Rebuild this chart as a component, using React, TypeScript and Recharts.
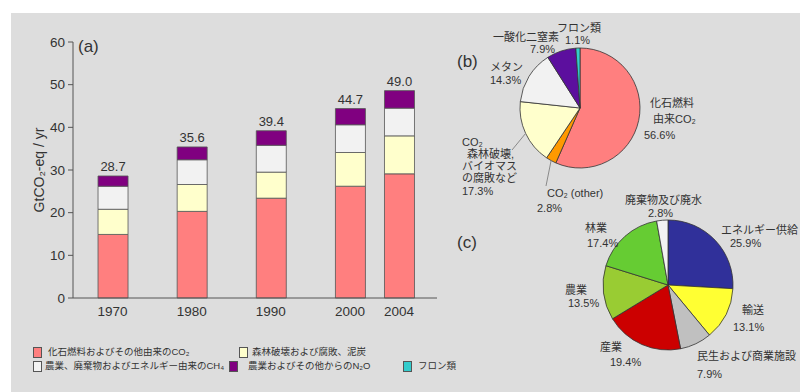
import React from "react"
import { BarChart, Bar, XAxis, YAxis, LabelList, PieChart, Pie, Cell } from "recharts"

// (a) emissions by gas, GtCO2-eq / yr
const years = [1970, 1980, 1990, 2000, 2004]
const fossilCo2 = [14.9, 20.3, 23.4, 26.2, 29.1]
const forestCo2 = [5.9, 6.3, 6.1, 7.9, 8.9]
const methane = [5.4, 5.8, 6.3, 6.5, 6.5]
const nitrous = [2.4, 3.0, 3.4, 3.8, 4.1]
const totals = [28.7, 35.6, 39.4, 44.7, 49.0]
const yTicks = [0, 10, 20, 30, 40, 50, 60]

// (b) share by gas, 2004
const gasNames = ["化石燃料\n由来CO₂", "CO₂ (other)", "CO₂\n森林破壊,\nバイオマス\nの腐敗など", "メタン", "一酸化二窒素", "フロン類"]
const gasShares = [56.6, 2.8, 17.3, 14.3, 7.9, 1.1]

// (c) share by sector, 2004
const sectorNames = ["エネルギー供給", "輸送", "民生および商業施設", "産業", "農業", "林業", "廃棄物及び廃水"]
const sectorShares = [25.9, 13.1, 7.9, 19.4, 13.5, 17.4, 2.8]

const legendNames = [
  "化石燃料およびその他由来のCO₂",
  "森林破壊および腐敗、泥炭",
  "農業、廃棄物およびエネルギー由来のCH₄",
  "農業およびその他からのN₂O",
  "フロン類",
]

const barData = years.map((year, i) => ({
  year,
  fossil: fossilCo2[i],
  forest: forestCo2[i],
  ch4: methane[i],
  n2o: nitrous[i],
  total: totals[i],
}))
const gasData = gasNames.map((name, i) => ({ name, value: gasShares[i] }))
const sectorData = sectorNames.map((name, i) => ({ name, value: sectorShares[i] }))

const FONT = "'Liberation Sans', Arial, 'Noto Sans CJK JP', sans-serif"
const INK = "#333"
const EDGE = "#555"
const BG = "#dddddd"

const barColors = ["#ff7f7f", "#ffffcc", "#f2f2f2", "#800080"]
const gasColors = ["#ff7f7f", "#ff9900", "#ffffcc", "#f2f2f2", "#5c0f9e", "#33cccc"]
const sectorColors = ["#30309a", "#ffff33", "#c0c0c0", "#cc0000", "#99cc33", "#66cc33", "#f2f2f2"]
const legendColors = ["#ff7f7f", "#ffffcc", "#f2f2f2", "#800080", "#33cccc"]

// the printed time axis isn't linear: 2000→2004 gets more room than 4 years
const axisYears = [1965, 1970, 2000, 2004, 2009]
const axisSlots = [0, 0.5, 3.5, 4.12, 4.6]

function makeYearScale(): any {
  let dom = [axisYears[0], axisYears[axisYears.length - 1]]
  let rng = [0, 1]
  const toSlot = (y: number) => {
    for (let i = 1; i < axisYears.length; i++) {
      if (y <= axisYears[i] || i === axisYears.length - 1) {
        const t = (y - axisYears[i - 1]) / (axisYears[i] - axisYears[i - 1])
        return axisSlots[i - 1] + t * (axisSlots[i] - axisSlots[i - 1])
      }
    }
    return axisSlots[0]
  }
  const scale: any = (y: number) => {
    const s0 = toSlot(dom[0])
    const s1 = toSlot(dom[dom.length - 1])
    return rng[0] + ((toSlot(y) - s0) / (s1 - s0)) * (rng[rng.length - 1] - rng[0])
  }
  scale.domain = (d?: number[]) => {
    if (d === undefined) return dom.slice()
    dom = d.slice()
    return scale
  }
  scale.range = (r?: number[]) => {
    if (r === undefined) return rng.slice()
    rng = r.slice()
    return scale
  }
  scale.copy = () => makeYearScale().domain(dom).range(rng)
  scale.ticks = () => years.slice()
  return scale
}

const yearScale = makeYearScale()

// label text spots, one [x, y] per text line (pie chart coords)
const gasLabelSpots = [
  [[210, 103], [213, 119], [204, 135]],
  [[107, 193], [97, 208]],
  [[22, 142], [27, 154], [22, 166], [22, 178], [22, 191]],
  [[50, 67], [50, 80]],
  [[53, 37], [90, 49]],
  [[117, 28], [125, 40]],
]
const gasLeaders = [null, [106, 186], [72, 150], null, null, null]

const sectorLabelSpots = [
  [[281, 230], [290, 243]],
  [[302, 310], [293, 327]],
  [[257, 356], [257, 374]],
  [[160, 347], [170, 362]],
  [[125, 290], [128, 303]],
  [[145, 228], [147, 243]],
  [[185, 200], [208, 213]],
]

const legendSpots = [
  { sx: 33, tx: 48, y: 352 },
  { sx: 239, tx: 252, y: 352 },
  { sx: 33, tx: 45, y: 366 },
  { sx: 229, tx: 248, y: 366 },
  { sx: 403, tx: 418, y: 366 },
]

const RAD = Math.PI / 180

function pieLabel(spots: number[][][], leaders: (number[] | null)[]) {
  return (p: any) => {
    const lines = [...String(p.name).split("\n"), `${Number(p.value).toFixed(1)}%`]
    const spot = spots[p.index]
    const end = leaders[p.index]
    const sx = p.cx + p.outerRadius * Math.cos(-p.midAngle * RAD)
    const sy = p.cy + p.outerRadius * Math.sin(-p.midAngle * RAD)
    return (
      <g key={`lbl-${p.index}`}>
        {end && <line x1={sx} y1={sy} x2={end[0]} y2={end[1]} stroke="#8a8a8a" strokeWidth={1} />}
        {lines.map((t, i) => (
          <text
            key={i}
            x={spot[i][0]}
            y={spot[i][1]}
            fontSize={11}
            fill={INK}
            fontFamily={FONT}
            dominantBaseline="central"
          >
            {t}
          </text>
        ))}
      </g>
    )
  }
}

const tag = (left: number, top: number): React.CSSProperties => ({
  position: "absolute",
  left,
  top,
  fontSize: 17,
  color: INK,
  lineHeight: "20px",
})

export default function App() {
  return (
    <div style={{ position: "relative", width: 800, height: 392, background: "#fff", overflow: "hidden", fontFamily: FONT }}>
      <style>{`body{margin:0}`}</style>
      <div style={{ position: "absolute", left: 11, top: 13, right: 0, bottom: 0, background: BG }} />

      {/* (a) stacked bars */}
      <div style={{ position: "absolute", left: 0, top: 0 }}>
        <BarChart width={460} height={330} data={barData} margin={{ top: 42, right: 23, bottom: 0, left: 43 }}>
          <XAxis
            type="number"
            dataKey="year"
            domain={[1965, 2009]}
            ticks={years}
            scale={yearScale}
            allowDataOverflow
            interval={0}
            height={32}
            tickLine={false}
            axisLine={{ stroke: EDGE }}
            tick={{ fontSize: 13.5, fill: INK, fontFamily: FONT }}
          />
          <YAxis
            type="number"
            domain={[0, 60]}
            ticks={yTicks}
            width={30}
            tickSize={5}
            tickMargin={3}
            axisLine={{ stroke: EDGE }}
            tickLine={{ stroke: EDGE }}
            tick={{ fontSize: 13.5, fill: INK, fontFamily: FONT }}
          />
          <Bar dataKey="fossil" stackId="a" barSize={30} fill={barColors[0]} stroke={EDGE} strokeWidth={0.8} isAnimationActive={false} />
          <Bar dataKey="forest" stackId="a" barSize={30} fill={barColors[1]} stroke={EDGE} strokeWidth={0.8} isAnimationActive={false} />
          <Bar dataKey="ch4" stackId="a" barSize={30} fill={barColors[2]} stroke={EDGE} strokeWidth={0.8} isAnimationActive={false} />
          <Bar dataKey="n2o" stackId="a" barSize={30} fill={barColors[3]} stroke={EDGE} strokeWidth={0.8} isAnimationActive={false}>
            <LabelList dataKey="total" position="top" offset={5} fontSize={13} fill={INK} fontFamily={FONT} formatter={(v: any) => Number(v).toFixed(1)} />
          </Bar>
        </BarChart>
      </div>

      <div
        style={{
          position: "absolute",
          left: 39,
          top: 170,
          transform: "translate(-50%, -50%) rotate(-90deg)",
          whiteSpace: "nowrap",
          fontSize: 14,
          color: INK,
        }}
      >
        GtCO₂-eq / yr
      </div>
      <div style={tag(78, 37)}>(a)</div>
      <div style={tag(457, 52)}>(b)</div>
      <div style={tag(457, 233)}>(c)</div>

      {/* (b) and (c) pies */}
      <div style={{ position: "absolute", left: 440, top: 0 }}>
        <PieChart width={360} height={392} margin={{ top: 0, right: 0, bottom: 0, left: 0 }}>
          <Pie
            data={gasData}
            dataKey="value"
            nameKey="name"
            cx={140}
            cy={108}
            outerRadius={60}
            startAngle={90}
            endAngle={-270}
            stroke={INK}
            strokeWidth={0.8}
            labelLine={false}
            label={pieLabel(gasLabelSpots, gasLeaders)}
            isAnimationActive={false}
          >
            {gasData.map((d, i) => (
              <Cell key={d.name} fill={gasColors[i]} />
            ))}
          </Pie>
          <Pie
            data={sectorData}
            dataKey="value"
            nameKey="name"
            cx={228}
            cy={285}
            outerRadius={65}
            startAngle={90}
            endAngle={-270}
            stroke={INK}
            strokeWidth={0.8}
            labelLine={false}
            label={pieLabel(sectorLabelSpots, sectorData.map(() => null))}
            isAnimationActive={false}
          >
            {sectorData.map((d, i) => (
              <Cell key={d.name} fill={sectorColors[i]} />
            ))}
          </Pie>
        </PieChart>
      </div>

      {/* legend */}
      {legendNames.map((name, i) => {
        const s = legendSpots[i]
        return (
          <React.Fragment key={name}>
            <div
              style={{
                position: "absolute",
                left: s.sx,
                top: s.y - 5,
                width: 7,
                height: 9,
                background: legendColors[i],
                border: `1px solid ${EDGE}`,
              }}
            />
            <div
              style={{
                position: "absolute",
                left: s.tx,
                top: s.y - 7,
                fontSize: 9.5,
                lineHeight: "14px",
                color: INK,
                whiteSpace: "nowrap",
              }}
            >
              {name}
            </div>
          </React.Fragment>
        )
      })}
    </div>
  )
}
